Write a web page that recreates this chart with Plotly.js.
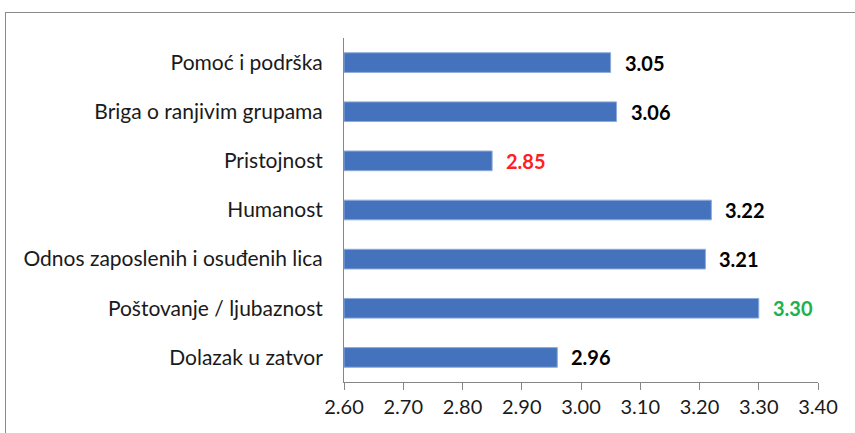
<!DOCTYPE html>
<html>
<head>
<meta charset="utf-8">
<script src="https://cdn.plot.ly/plotly-3.0.1.min.js"></script>
<style>
  html, body { margin: 0; padding: 0; background: #fff; overflow: hidden; }
  #chart { width: 855px; height: 433px; position: absolute; left: 0; top: 0; }
  #frame { position: absolute; left: 5px; top: 12px; width: 900px; height: 500px;
           border: 1px solid #8a8a8a; pointer-events: none; box-sizing: border-box; }
</style>
</head>
<body>
<div id="chart"></div>
<div id="frame"></div>
<script>
const categories = [
  "Pomoć i podrška",
  "Briga o ranjivim grupama",
  "Pristojnost",
  "Humanost",
  "Odnos zaposlenih i osuđenih lica",
  "Poštovanje / ljubaznost",
  "Dolazak u zatvor"
];
const values = [3.05, 3.06, 2.85, 3.22, 3.21, 3.30, 2.96];
const labelColors = ["#000000", "#000000", "#ff2020", "#000000", "#000000", "#1fb04a", "#000000"];
const tickValues = [2.6, 2.7, 2.8, 2.9, 3.0, 3.1, 3.2, 3.3, 3.4];
const tickLabels = ["2.60", "2.70", "2.80", "2.90", "3.00", "3.10", "3.20", "3.30", "3.40"];

const FONT = "Lato, 'Open Sans', sans-serif";

const trace = {
  type: "bar",
  orientation: "h",
  y: categories,
  x: values.map(v => v - 2.6),
  base: 2.6,
  marker: { color: "#4472bc", line: { color: "#8eaadb", width: 1 } },
  hoverinfo: "none"
};

const annotations = categories.map((c, i) => ({
  x: values[i], y: c, xref: "x", yref: "y",
  text: "<b>" + values[i].toFixed(2) + "</b>",
  showarrow: false, xanchor: "left", xshift: 12,
  font: { family: FONT, size: 20, color: labelColors[i] }
}));

const layout = {
  width: 855, height: 433,
  margin: { l: 344, r: 37, t: 38, b: 51 },
  paper_bgcolor: "rgba(0,0,0,0)",
  plot_bgcolor: "#ffffff",
  showlegend: false,
  bargap: 0.6,
  font: { family: FONT, size: 16, color: "#1a1a1a" },
  xaxis: {
    range: [2.6, 3.4],
    tickvals: tickValues, ticktext: tickLabels,
    showgrid: false, zeroline: false,
    showline: true, linecolor: "#868686", linewidth: 1,
    ticks: "outside", ticklen: 7, tickcolor: "#868686",
    tickfont: { family: FONT, size: 20, color: "#1a1a1a" }
  },
  yaxis: {
    autorange: "reversed",
    showgrid: false, zeroline: false,
    showline: true, linecolor: "#868686", linewidth: 1,
    ticks: "", ticklabelstandoff: 16,
    tickfont: { family: FONT, size: 21, color: "#1a1a1a" }
  },
  annotations: annotations
};

Plotly.newPlot("chart", [trace], layout, { staticPlot: true, displayModeBar: false });
</script>
</body>
</html>
